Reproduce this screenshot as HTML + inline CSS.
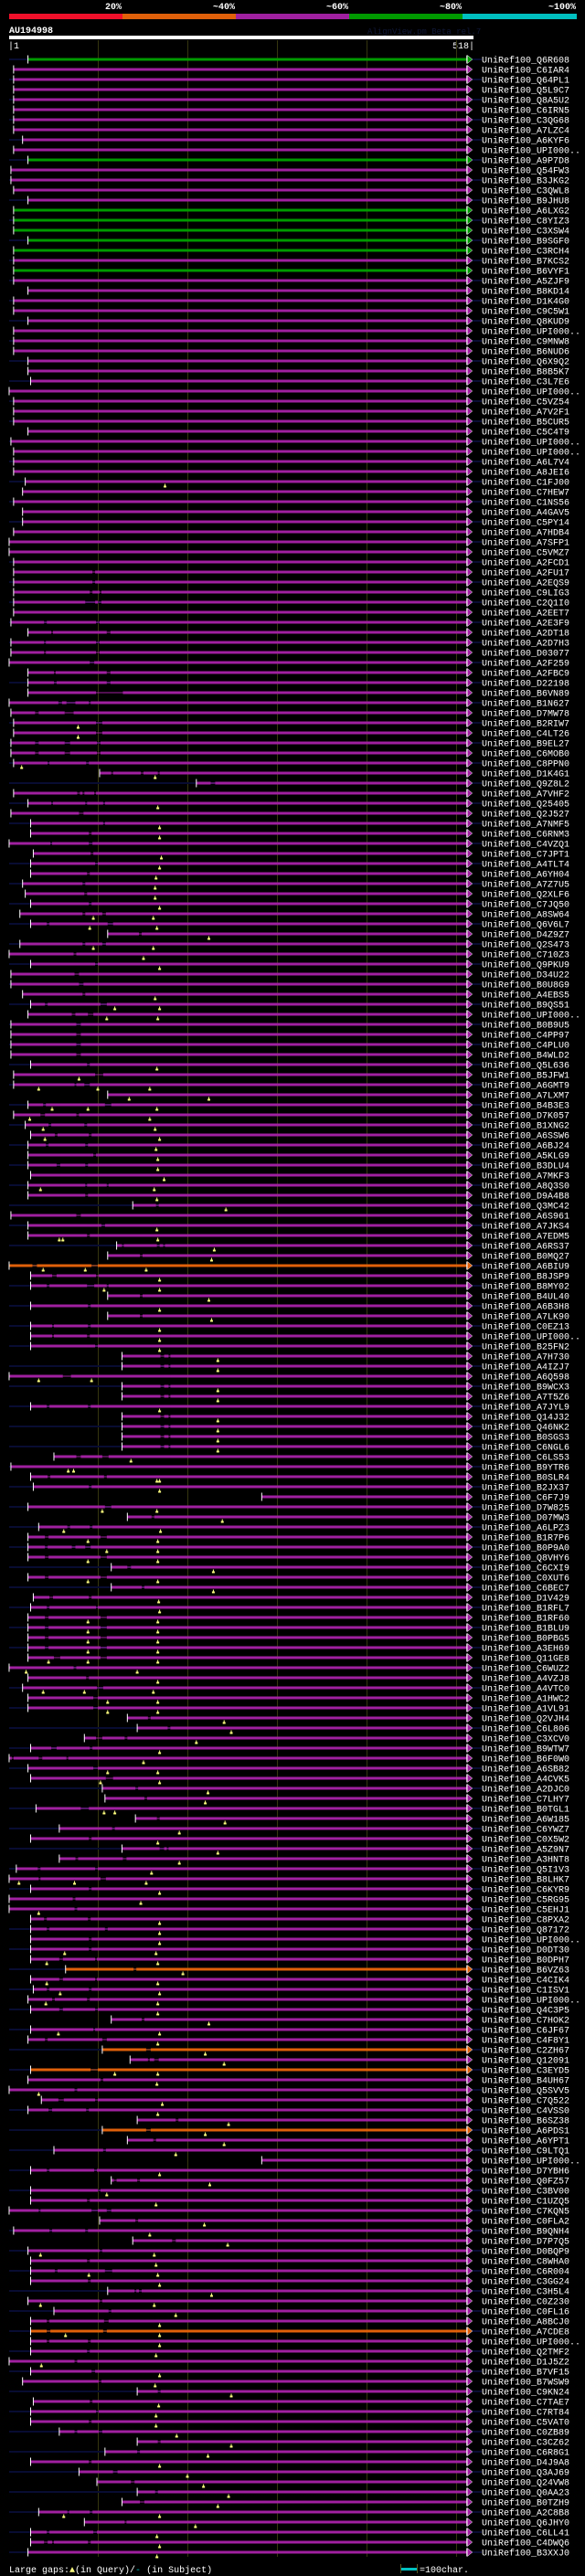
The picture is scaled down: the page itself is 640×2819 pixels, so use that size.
<!DOCTYPE html>
<html><head><meta charset="utf-8">
<style>
html,body{margin:0;padding:0;background:#000;}
svg{display:block;}
text{font-family:"Liberation Mono","DejaVu Sans Mono",monospace;}
</style></head>
<body>
<svg id="chart" width="640" height="2819" viewBox="0 0 640 2819" xmlns="http://www.w3.org/2000/svg">
<rect x="0" y="0" width="640" height="2819" fill="#000"/>
<g>
<text x="133" y="10" fill="#fff" font-size="10" font-weight="bold" text-anchor="end">20%</text>
<text x="257" y="10" fill="#fff" font-size="10" font-weight="bold" text-anchor="end">~40%</text>
<text x="381" y="10" fill="#fff" font-size="10" font-weight="bold" text-anchor="end">~60%</text>
<text x="505" y="10" fill="#fff" font-size="10" font-weight="bold" text-anchor="end">~80%</text>
<text x="630" y="10" fill="#fff" font-size="10" font-weight="bold" text-anchor="end">~100%</text>
<rect x="10" y="15" width="124" height="6" fill="#f0102a"/>
<rect x="134" y="15" width="124" height="6" fill="#e0600a"/>
<rect x="258" y="15" width="124" height="6" fill="#a020a0"/>
<rect x="382" y="15" width="124" height="6" fill="#009a00"/>
<rect x="506" y="15" width="125" height="6" fill="#00c0c0"/>
</g>
<text x="10" y="36" fill="#fff" font-size="10" font-weight="bold">AU194998</text>
<text x="402" y="37" fill="#101838" font-size="9">AlignView.pm Beta rel.7</text>
<rect x="10" y="39" width="508" height="4" fill="#fff"/>
<text x="9" y="53" fill="#fff" font-size="10">|1</text>
<text x="519" y="53" fill="#fff" font-size="10" text-anchor="end">518|</text>
<g id="grid"></g>
<g id="rows"></g>
<g>
<text x="10" y="2815" fill="#fff" font-size="10">Large gaps:<tspan fill="#ffff80">▲</tspan>(in Query)/<tspan fill="#00c0c0">-</tspan> (in Subject)</text>
<rect x="439" y="2810" width="17" height="3" fill="#00c0c0"/>
<rect x="438" y="2806" width="1" height="10" fill="#555520"/>
<rect x="456" y="2806" width="1" height="10" fill="#555520"/>
<text x="459" y="2815" fill="#fff" font-size="10">=100char.</text>
</g>
</svg>
<script>
const gridTicks = [100,200,300,400,500];
const starts = [22,6,6,6,6,6,6,6,16,6,22,3,3,6,22,6,6,6,22,6,6,6,6,22,6,6,22,6,6,
6,22,22,25,1,6,6,6,22,3,6,6,6,19,16,6,16,16,6,1,1,6,6,6,
6,6,6,3,22,3,3,1,22,22,22,1,3,6,6,3,3,6,102,210,6,22,3,25,25,
1,28,25,25,16,19,25,13,25,111,13,1,25,3,3,16,25,22,3,3,3,3,25,6,6,111,22,6,19,25,22,22,22,25,22,22,139,3,22,22,121,111,1,25,25,111,25,111,25,
25,25,127,127,1,127,127,25,127,127,127,127,51,3,25,28,283,22,133,34,22,22,22,115,22,115,28,25,22,22,22,22,22,1,22,16,22,22,133,144,85,25,1,22,25,105,108,31,142,
57,25,127,57,9,1,25,1,1,25,25,25,25,25,64,25,28,22,25,115,25,22,105,136,25,22,1,37,22,144,105,133,51,283,25,115,25,25,1,102,6,139,22,25,25,25,111,22,51,
25,25,25,25,1,25,16,144,28,25,25,57,144,108,25,79,99,144,127,34,85,25,25,22];
const greenRows = [0,10,15,16,17,18,19,21];
const orangeRows = [120,190,198,200,206,226];
const queryEnd = 512;
const gaps = [
[51,94,97],[52,94,97],[53,91,94],[53,102,104],[54,86,97],[54,100,104],[56,40,43],[56,98,102],[57,48,50],[57,110,114],
[58,40,42],[58,98,102],[59,40,42],[59,98,102],[60,91,96],[61,51,53],[61,110,114],[62,51,54],[62,110,114],[63,98,128],
[64,56,60],[64,65,75],[64,90,92],[65,30,34],[65,63,73],[66,98,105],[67,98,105],[68,30,34],[68,63,69],[68,99,103],
[69,30,34],[69,63,69],[69,99,103],[70,44,46],[70,87,90],[71,115,117],[71,148,151],[71,167,169],[72,226,231],
[73,77,80],[73,83,85],[73,96,98],[74,48,50],[74,86,88],[74,106,108],[75,79,84],[76,106,108],[77,90,93],[78,47,49],[78,90,94],
[79,92,95],[80,97,100],[81,88,91],[82,83,86],[83,85,88],[84,90,93],[85,83,86],[85,105,109],[86,43,46],[86,111,117],[87,146,149],
[88,83,86],[88,105,109],[89,73,76],[90,97,100],[91,74,79],[92,79,84],[93,83,86],[94,41,44],[94,103,110],[95,71,75],[95,89,95],
[96,76,81],[97,76,81],[98,76,81],[99,76,81],[100,88,91],[101,97,106],[102,74,76],[102,85,91],[104,39,42],[104,108,115],
[105,36,41],[105,76,79],[106,45,48],[106,85,88],[107,52,55],[107,90,93],[108,42,45],[108,86,89],[109,95,98],[110,54,58],[110,86,89],
[112,86,88],[112,110,112],[113,86,89],[114,165,168],[115,76,81],[116,104,108],[117,88,91],[118,127,129],[118,166,169],[118,173,175],
[119,147,150],[120,27,32],[120,93,100],[121,49,54],[121,98,101],[122,43,46],[122,88,96],[122,110,112],[123,147,150],[124,89,92],
[125,147,150],[126,49,51],[126,89,92],[127,49,51],[127,88,91],[128,97,100],
[129,170,174],[129,179,181],[130,170,174],[130,179,181],[131,61,70],[132,170,174],[132,179,181],[133,170,174],[133,179,181],
[134,43,46],[134,89,92],[135,170,174],[135,179,181],[136,170,174],[136,179,181],[137,170,174],[137,179,181],[138,170,174],[138,179,181],
[139,76,81],[139,105,112],[141,44,47],[141,107,110],[142,90,93],[144,108,115],[145,160,163],[146,66,69],[146,91,94],
[147,41,45],[147,103,110],[148,41,44],[148,71,75],[148,86,92],[149,41,45],[149,103,110],[150,133,137],[151,41,45],[151,103,110],
[152,149,152],[153,46,50],[153,90,93],[154,43,46],[154,98,100],[155,41,45],[155,103,110],[156,41,45],[156,103,110],
[157,41,45],[157,103,110],[158,41,45],[158,103,110],[159,51,58],[159,103,110],[160,73,76],[161,87,90],[162,99,106],
[163,95,100],[164,95,100],[165,156,159],[166,178,181],[167,98,105],[167,130,133],[168,48,54],[168,91,94],
[169,4,6],[169,34,38],[169,65,67],[170,95,100],[171,109,117],[172,142,145],[173,152,155],[174,81,90],[175,166,169],
[176,116,119],[177,90,93],[178,169,174],[178,177,179],[179,75,78],[179,128,132],[180,33,36],[180,97,100],[181,34,36],[181,103,109],
[182,90,93],[183,72,75],[184,74,77],[185,40,43],[185,89,92],[186,43,46],[186,108,111],[187,90,93],[188,90,93],
[189,57,61],[189,97,99],[190,140,143],[191,57,61],[191,97,99],[192,43,46],[192,90,93],[193,49,52],[193,88,91],
[194,57,61],[194,97,100],[195,149,152],[196,95,97],[197,41,44],[197,105,110],[198,154,159],[199,156,158],[199,163,168],
[200,92,100],[201,103,106],[202,74,77],[203,56,62],[203,97,100],[204,45,49],[204,87,90],[205,187,190],[206,154,159],
[207,162,165],[208,106,109],[210,43,46],[210,96,99],[211,118,121],[211,144,147],[212,100,103],[213,88,91],
[214,34,36],[214,93,100],[214,110,115],[215,142,145],[216,46,49],[216,86,89],[217,183,187],[218,102,105],[219,88,91],
[220,52,55],[220,108,116],[221,89,92],[222,141,143],[222,146,149],[223,102,105],[224,112,115],[225,43,46],[225,107,112],
[226,43,47],[226,106,110],[227,43,46],[227,89,92],[228,88,91],[229,74,77],[230,93,97],[231,101,104],[232,167,170],
[233,91,94],[234,98,101],[235,90,93],[236,74,77],[236,101,105],[237,167,170],[238,144,147],[239,90,93],[240,117,122],
[241,137,141],[242,164,167],[243,147,152],[244,66,68],[244,91,94],[245,130,132],[246,43,46],[246,95,99],
[247,40,44],[247,49,51],[247,89,92]];
const marks = [
[42,175],[66,78],[67,78],[70,15],[71,164],[74,167],[76,169],[77,169],[79,171],[80,169],[81,165],[82,164],[83,164],[84,169],
[85,95],[85,162],[86,91],[86,166],[87,224],[88,95],[88,162],[89,151],[90,169],[93,164],[94,119],[94,169],[95,110],[95,167],
[100,166],[101,79],[102,34],[102,100],[102,158],[103,135],[103,224],[104,49],[104,89],[104,166],[105,24],[105,158],[106,39],[106,164],
[107,41],[107,169],[108,165],[109,167],[110,167],[111,174],[112,36],[112,163],[113,166],[114,243],[116,166],[117,57],[117,61],[117,167],
[118,230],[119,227],[120,39],[120,86],[120,154],[121,169],[122,107],[122,169],[123,224],[124,169],[125,227],[126,169],[127,169],[128,169],
[129,234],[130,234],[131,34],[131,93],[132,234],[133,234],[134,169],[135,234],[136,234],[137,234],[138,234],[139,137],[140,67],[140,73],
[141,166],[141,169],[142,169],[144,105],[144,166],[145,239],[146,62],[146,170],[147,89],[147,167],[148,110],[148,167],[149,89],[149,167],
[150,229],[151,89],[151,167],[152,229],[153,168],[154,169],[155,89],[155,167],[156,89],[156,167],[157,89],[157,167],[158,89],[158,167],
[159,45],[159,89],[159,167],[160,20],[160,144],[161,167],[162,39],[162,85],[162,162],[163,111],[163,167],[164,111],[164,167],[165,241],
[166,249],[167,210],[168,169],[169,151],[170,111],[170,167],[171,103],[171,169],[172,223],[173,220],[174,107],[174,119],[175,242],
[176,191],[177,167],[178,234],[179,191],[180,160],[181,12],[181,74],[181,154],[182,169],[183,148],[184,34],[185,169],[186,169],[187,169],
[188,63],[188,165],[189,43],[189,167],[190,195],[191,43],[191,167],[192,58],[192,169],[193,42],[193,167],[194,167],[195,224],[196,56],[196,169],
[197,167],[198,220],[199,241],[200,119],[200,167],[201,166],[202,34],[203,172],[204,167],[205,246],[206,220],[207,241],[208,187],[210,169],
[211,225],[212,110],[213,165],[215,219],[216,158],[217,245],[218,36],[218,163],[219,165],[220,90],[220,167],[221,169],[222,227],[223,36],[223,163],
[224,187],[225,169],[226,64],[226,169],[227,169],[228,165],[229,37],[230,169],[231,164],[232,249],[233,168],[234,165],[235,165],[236,188],
[237,249],[238,223],[239,169],[240,200],[241,218],[242,246],[243,234],[244,62],[244,169],[245,209],[246,166],[247,169],[248,166]];
const hitIds = ["Q6R608","C6IAR4","Q64PL1","Q5L9C7","Q8A5U2","C6IRN5","C3QG68","A7LZC4","A6KYF6","UPI000..",
"A9P7D8","Q54FW3","B3JKG2","C3QWL8","B9JHU8","A6LXG2","C8YIZ3","C3XSW4","B9SGF0","C3RCH4",
"B7KCS2","B6VYF1","A5ZJF9","B8KD14","D1K4G0","C9C5W1","Q8KUD9","UPI000..","C9MNW8","B6NUD6",
"Q6X9Q2","B8B5K7","C3L7E6","UPI000..","C5VZ54","A7V2F1","B5CUR5","C5C4T9","UPI000..","UPI000..",
"A6L7V4","A8JEI6","C1FJ00","C7HEW7","C1NS56","A4GAV5","C5PY14","A7HDB4","A7SFP1","C5VMZ7",
"A2FCD1","A2FU17","A2EQS9","C9LIG3","C2Q1I0","A2EET7","A2E3F9","A2DT18","A2D7H3","D03077",
"A2F259","A2FBC9","D22198","B6VN89","B1N627","D7MW78","B2RIW7","C4LT26","B9EL27","C6MOB0",
"C8PPN0","D1K4G1","Q9Z8L2","A7VHF2","Q25405","Q2J527","A7NMF5","C6RNM3","C4VZQ1","C7JPT1",
"A4TLT4","A6YH04","A7Z7U5","Q2XLF6","C7JQ50","A8SW64","Q6V6L7","D4Z9Z7","Q2S473","C710Z3",
"Q9PKU9","D34U22","B0U8G9","A4EBS5","B9QS51","UPI000..","B0B9U5","C4PP97","C4PLU0","B4WLD2",
"Q5L636","B5JFW1","A6GMT9","A7LXM7","B4B3E3","D7K057","B1XNG2","A6SSW6","A6BJ24","A5KLG9",
"B3DLU4","A7MKF3","A8Q3S0","D9A4B8","Q3MC42","A6S961","A7JKS4","A7EDM5","A6RS37","B0MQ27",
"A6BIU9","B8JSP9","B8MY02","B4UL40","A6B3H8","A7LK90","C0EZ13","UPI000..","B25FN2","A7H730",
"A4IZJ7","A6Q598","B9WCX3","A7T5Z6","A7JYL9","Q14J32","Q46NK2","B0SGS3","C6NGL6","C6LS53",
"B9YTR6","B0SLR4","B2JX37","C6F7J9","D7W825","D07MW3","A6LPZ3","B1R7P6","B0P9A0","Q8VHY6",
"C6CXI9","C0XUT6","C6BEC7","D1V429","B1RFL7","B1RF60","B1BLU9","B0PBG5","A3EH69","Q11GE8",
"C6WUZ2","A4VZJ8","A4VTC0","A1HWC2","A1VL91","Q2VJH4","C6L806","C3XCV0","B9WTW7","B6F0W0",
"A6SB82","A4CVK5","A2DJC0","C7LHY7","B0TGL1","A6W185","C6YWZ7","C0X5W2","A5Z9N7","A3HNT8",
"Q5I1V3","B8LHK7","C6KYR9","C5RG95","C5EHJ1","C8PXA2","Q87172","UPI000..","D0DT30","B0DPH7",
"B6VZ63","C4CIK4","C1ISV1","UPI000..","Q4C3P5","C7HOK2","C6JF67","C4F8Y1","C2ZH67","Q12091",
"C3EYD5","B4UH67","Q5SVV5","C7Q522","C4VSS0","B6SZ38","A6PDS1","A6YPT1","C9LTQ1","UPI000..",
"D7YBH6","Q0FZ57","C3BV00","C1UZQ5","C7KQN5","C0FLA2","B9QNH4","D7P7Q5","D0BQP9","C8WHA0",
"C6R004","C3GG24","C3H5L4","C0Z230","C0FL16","A8BCJ0","A7CDE8","UPI000..","Q2TMF2","D1J5Z2",
"B7VF15","B7WSW9","C9KN24","C7TAE7","C7RT84","C5VAT0","C0ZB89","C3CZ62","C6R8G1","D4J9A8",
"Q3AJ69","Q24VW8","Q0AA23","B0TZH9","A2C8B8","Q6JHY0","C6LL41","C4DWQ6","B3XXJ0"];

const NS = "http://www.w3.org/2000/svg";
function xScale(r){ return 9 + 0.98 * r; }
function yScale(i){ return 65 + 11 * i; }
function mk(tag, attrs, parent){
  const e = document.createElementNS(NS, tag);
  for (const k in attrs) e.setAttribute(k, attrs[k]);
  parent.appendChild(e);
  return e;
}
const gridG = document.getElementById('grid');
gridTicks.forEach(function(t){
  const l = mk('line', {x1: xScale(t)+0.5, x2: xScale(t)+0.5, y1: 44, y2: 2798, stroke: '#36360f', 'stroke-width': 1}, gridG);
  
  
});
const rowsG = document.getElementById('rows');
const n = starts.length;
for (let i = 0; i < n; i++){
  const y = yScale(i);
  let col = '#a020a0';
  if (greenRows.indexOf(i) >= 0) col = '#009a00';
  if (orangeRows.indexOf(i) >= 0) col = '#e0600a';
  const g = mk('g', {}, rowsG);
  
  
  if (i % 2 === 0){
    const bg = mk('rect', {x: 10, y: y-1, width: 517, height: 2, fill: '#080c32'}, g);
    
    
  }
  const x0 = xScale(starts[i]);
  const x1 = xScale(queryEnd);
  const rowGaps = gaps.filter(function(gp){ return gp[0] === i; }).sort(function(a,b){return a[1]-b[1];});
  let cur = x0;
  rowGaps.forEach(function(gp){
    const a = xScale(gp[1]), b = xScale(gp[2]);
    if (a > cur){
      const seg = mk('rect', {x: cur, y: y-1.5, width: a-cur, height: 3, fill: col}, g);
      
      
    }
    const gl = mk('rect', {x: a, y: y-0.5, width: b-a, height: 1, fill: col}, g);
    
    
    cur = b;
  });
  const last = mk('rect', {x: cur, y: y-1.5, width: x1-cur, height: 3, fill: col}, g);
  
  
  const tick = mk('rect', {x: x0-0.5, y: y-4.5, width: 1, height: 9, fill: '#fff'}, g);
  
  
  const endTick = mk('rect', {x: x1-0.5, y: y-4.5, width: 1, height: 9, fill: '#fff'}, g);
  
  
  const arr = mk('polygon', {points: (x1+0.5)+','+(y-4.5)+' '+(x1+6)+','+y+' '+(x1+0.5)+','+(y+4.5), fill: col, stroke: '#fff', 'stroke-width': 0.5}, g);
  
  
  const lab = mk('text', {x: 527, y: y+3.5, fill: '#fff', 'font-size': 10}, g);
  lab.textContent = 'UniRef100_' + hitIds[i];
  
  
}
marks.forEach(function(m){
  const y = yScale(m[0]);
  const x = xScale(m[1]);
  const mg = mk('g', {}, rowsG);
  
  
  mk('rect', {x: x-0.5, y: y+2.5, width: 1, height: 2, fill: '#ffff80'}, mg);
  mk('rect', {x: x-1.5, y: y+4.5, width: 3, height: 2, fill: '#ffff80'}, mg);
});
</script>
</body></html>
